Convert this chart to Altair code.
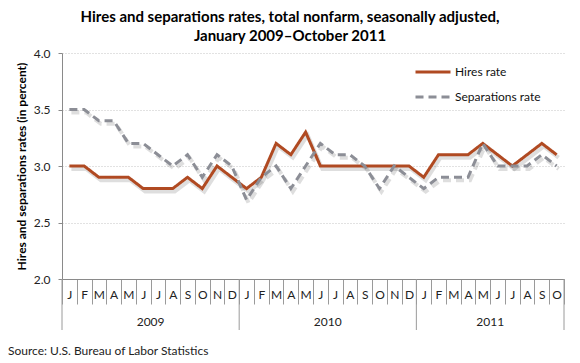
import altair as alt
import pandas as pd

month_letters = ["J", "F", "M", "A", "M", "J", "J", "A", "S", "O", "N", "D"]
years = [2009, 2010, 2011]
months_per_year = [12, 12, 10]

hires = [3.0, 3.0, 2.9, 2.9, 2.9, 2.8, 2.8, 2.8, 2.9, 2.8, 3.0, 2.9,
         2.8, 2.9, 3.2, 3.1, 3.3, 3.0, 3.0, 3.0, 3.0, 3.0, 3.0, 3.0,
         2.9, 3.1, 3.1, 3.1, 3.2, 3.1, 3.0, 3.1, 3.2, 3.1]
separations = [3.5, 3.5, 3.4, 3.4, 3.2, 3.2, 3.1, 3.0, 3.1, 2.9, 3.1, 3.0,
               2.7, 2.9, 3.0, 2.8, 3.0, 3.2, 3.1, 3.1, 3.0, 2.8, 3.0, 2.9,
               2.8, 2.9, 2.9, 2.9, 3.2, 3.0, 3.0, 3.0, 3.1, 3.0]
series_names = ["Hires rate", "Separations rate"]
colors = ["#B04A22", "#8C8E96"]

keys = []
for y, n in zip(years, months_per_year):
    for m in range(n):
        keys.append(f"{len(keys):02d}|{month_letters[m]}")

rows = []
for i, k in enumerate(keys):
    rows.append({"key": k, "series": series_names[0], "value": hires[i]})
    rows.append({"key": k, "series": series_names[1], "value": separations[i]})
df = pd.DataFrame(rows)

# year labels and separators
yr_rows, sep_rows = [], []
start = 0
for y, n in zip(years, months_per_year):
    yr_rows.append({"key": keys[start + n // 2], "label": str(y)})
    sep_rows.append({"key": keys[start]})
    start += n
yr_df = pd.DataFrame(yr_rows)
sep_df = pd.DataFrame(sep_rows)
end_df = pd.DataFrame([{"key": keys[-1]}])

FONT = "Lato"
W, H = 502, 226

xscale = alt.Scale(type="band", domain=keys, paddingInner=0, paddingOuter=0)
x_axis = alt.Axis(
    title=None, labelExpr="split(datum.value, '|')[1]", tickBand="extent",
    tickSize=25, labelPadding=-15, labelAngle=0, labelFontSize=12,
    labelColor="#222", tickColor="#9a9a9a", domainColor="#8a8a8a",
    grid=False, labelFont=FONT,
)
y_axis = alt.Axis(
    title="Hires and separations rates (in percent)", values=[2.0, 2.5, 3.0, 3.5, 4.0],
    format=".1f", tickSize=4, labelPadding=8, labelFontSize=12, labelColor="#222",
    tickColor="#8a8a8a", domainColor="#8a8a8a", grid=True, gridColor="#c4c4c4",
    gridDash=[1, 2], titleFontSize=12, titleFontWeight="bold", titleX=-34,
    titleY=H / 2, titleColor="#000", labelFont=FONT, titleFont=FONT,
)

legend = alt.Legend(
    title=None, orient="none", legendX=352, legendY=0,
    symbolType="stroke", symbolSize=1225, symbolStrokeWidth=3,
    labelFontSize=12, labelFont=FONT, labelColor="#111",
    rowPadding=-5, labelOffset=3)

base = alt.Chart(df)

shadow_h = base.transform_filter(alt.datum.series == series_names[0]).mark_line(
    color="#000", opacity=0.13, strokeWidth=4, xOffset=2, yOffset=3
).encode(x=alt.X("key:O", scale=xscale, axis=x_axis),
         y=alt.Y("value:Q", scale=alt.Scale(domain=[2, 4]), axis=y_axis))
shadow_s = base.transform_filter(alt.datum.series == series_names[1]).mark_line(
    color="#000", opacity=0.13, strokeWidth=4, xOffset=2, yOffset=3, strokeDash=[8, 5]
).encode(x=alt.X("key:O", scale=xscale), y=alt.Y("value:Q"))

lines = base.mark_line(strokeWidth=3).encode(
    x=alt.X("key:O", scale=xscale),
    y=alt.Y("value:Q"),
    color=alt.Color("series:N", scale=alt.Scale(domain=series_names, range=colors),
                    legend=legend),
    strokeDash=alt.StrokeDash("series:N", scale=alt.Scale(domain=series_names,
                              range=[[1, 0], [8, 5]]), legend=legend),
)

year_text = alt.Chart(yr_df).mark_text(
    fontSize=12, font=FONT, color="#222", baseline="middle"
).encode(x=alt.X("key:O", scale=xscale, bandPosition=0), y=alt.value(H + 43),
         text="label:N")

year_seps = alt.Chart(sep_df).mark_rule(color="#9a9a9a").encode(
    x=alt.X("key:O", scale=xscale, bandPosition=0), y=alt.value(H), y2=alt.value(H + 51))
year_end = alt.Chart(end_df).mark_rule(color="#9a9a9a").encode(
    x=alt.X("key:O", scale=xscale, bandPosition=1), y=alt.value(H), y2=alt.value(H + 51))

source = alt.Chart(pd.DataFrame([{"t": "Source:  U.S. Bureau of Labor Statistics"}])).mark_text(
    fontSize=12, font=FONT, color="#222", align="left", baseline="middle"
).encode(x=alt.value(-54), y=alt.value(H + 72), text="t:N")

chart = alt.layer(shadow_h, shadow_s, lines, year_text, year_seps, year_end, source).properties(
    width=W, height=H,
    autosize=alt.AutoSizeParams(type="none"),
    padding={"left": 54, "top": 45, "right": 8, "bottom": 80},
    title=alt.TitleParams(
        text=["Hires and separations rates, total nonfarm, seasonally adjusted,",
              "January 2009\u2013October 2011"],
        font=FONT, fontSize=15, fontWeight="bold", color="#000", anchor="middle",
        dx=-23, offset=3, lineHeight=19,
    ),
).configure_view(stroke=None)

chart.save("out.html", embed_options={"renderer": "svg", "actions": False})
